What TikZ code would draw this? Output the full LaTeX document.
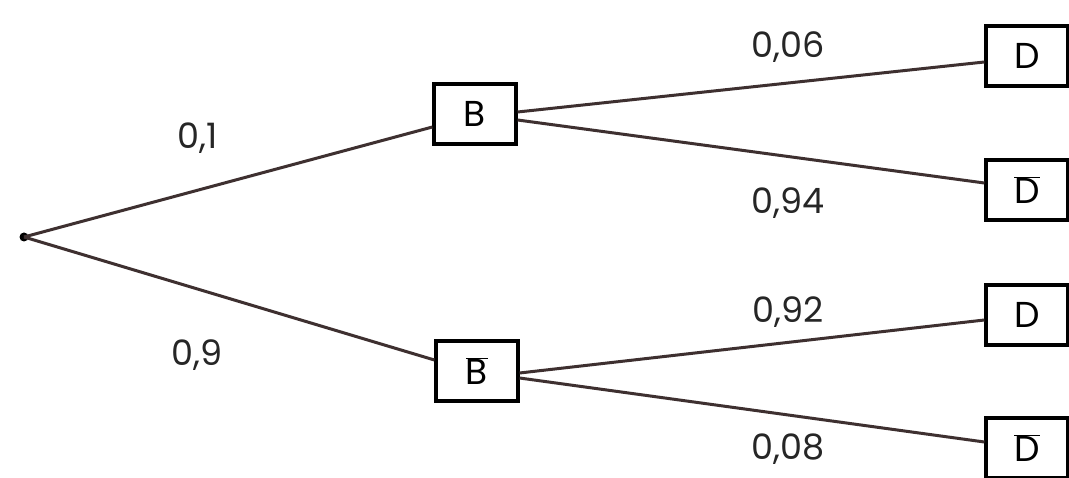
\documentclass[tikz,border=0pt]{standalone}
\usepackage{fontspec}
\setmainfont{Poppins}
\definecolor{linec}{RGB}{62,48,48}
\tikzset{
  x=1pt,y=1pt,
  box/.style={draw=black,line width=3.2pt,minimum width=82pt,minimum height=60pt,inner sep=0pt,
    font=\fontsize{36}{38}\selectfont},
  branch/.style={draw=linec,line width=3pt},
  prob/.style={font=\fontsize{35}{37}\selectfont,inner sep=0pt,text=black!85},
}
\newcommand{\barred}[1]{$\overline{\mbox{#1}}$}
\begin{document}
\begin{tikzpicture}
\useasboundingbox (0,0) rectangle (1069,477);
\clip (0,0) rectangle (1069,477);
\fill[white] (0,0) rectangle (1069,477);
\node[circle,fill=black,inner sep=0pt,minimum size=9pt] (root) at (24,240) {};
\node[box] (B) at (475,363) {B};
\node[box] (Bb) at (477,106) {\barred{B}};
\node[box] (D1) at (1027,421) {D};
\node[box] (Db1) at (1027,287) {\barred{D}};
\node[box] (D2) at (1027,162) {D};
\node[box] (Db2) at (1027,29) {\barred{D}};
\draw[branch] (root.center) -- ([yshift=-13pt]B.west);
\draw[branch] (root.center) -- ([yshift=11pt]Bb.west);
\draw[branch] ([yshift=2pt]B.east) -- ([yshift=-6pt]D1.west);
\draw[branch] ([yshift=-6pt]B.east) -- ([yshift=7pt]Db1.west);
\draw[branch] ([yshift=-2pt]Bb.east) -- ([yshift=-5pt]D2.west);
\draw[branch] ([yshift=-7pt]Bb.east) -- ([yshift=6pt]Db2.west);
\node[prob] (p1) at (198,339) {0,1};
\node[prob] (p2) at (197,122) {0,9};
\node[prob] (p3) at (788,430) {0,06};
\node[prob] (p4) at (788,274) {0,94};
\node[prob] (p5) at (788,165) {0,92};
\node[prob] (p6) at (788,28) {0,08};
\end{tikzpicture}
\end{document}
